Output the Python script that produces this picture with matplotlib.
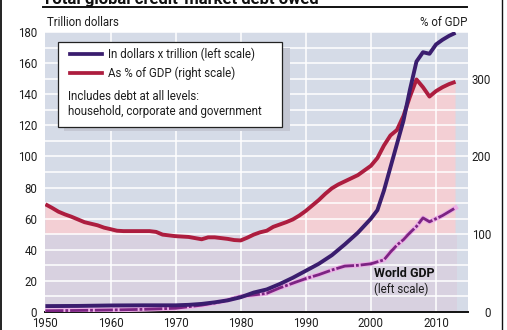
import matplotlib
matplotlib.use('Agg')
import matplotlib.pyplot as plt
from matplotlib.lines import Line2D
from matplotlib.patches import Rectangle
import numpy as np

# ---------------- data ----------------
years_pct = list(range(1950, 2014))
debt_pct_gdp = [138.5, 134, 129, 125.5, 122.5, 119, 115.5, 113.5, 111.5, 108.5,
                106.5, 104.5, 104, 104, 104, 104, 104, 103, 99.5, 98.5,
                97.5, 97, 96.5, 95, 93.5, 96, 96, 95, 94, 92.5,
                92, 95.5, 99.5, 102.5, 104.5, 109.5, 112.5, 115.5, 119, 124,
                130, 137, 144, 152, 159, 164, 168, 172, 176, 182,
                188, 198, 214, 227, 234, 252, 277, 299, 289, 277,
                284, 289, 293, 296]

years_debt = [1950, 1955, 1960, 1965, 1970, 1972, 1974, 1976, 1978, 1980, 1982, 1984,
              1986, 1988, 1990, 1992, 1994, 1996, 1998, 2000, 2001, 2002, 2003, 2004,
              2005, 2006, 2007, 2008, 2009, 2010, 2011, 2012, 2013]
debt_trillion = [3.8, 3.9, 4.2, 4.3, 4.3, 4.6, 5.2, 6.2, 7.5, 9.5, 12.5, 14.5,
                 18, 22, 26.5, 31, 36.5, 43.5, 51, 60, 65.5, 78, 93, 108,
                 123, 143, 161, 167, 166, 172, 175, 177.5, 179.5]

years_gdp = [1950, 1955, 1960, 1965, 1970, 1972, 1974, 1976, 1978, 1980, 1982, 1984,
             1986, 1988, 1990, 1992, 1994, 1996, 1998, 2000, 2002, 2003, 2004, 2005,
             2006, 2007, 2008, 2009, 2010, 2011, 2012, 2013]
world_gdp = [0.8, 1.0, 1.3, 1.7, 2.4, 3.4, 4.4, 5.8, 7.6, 10, 11, 12,
             15.5, 18.5, 21.5, 24, 27, 29.5, 30, 31, 33.5, 38.5, 43, 46.5,
             51, 55, 60.5, 58, 60, 62, 64.5, 67]

left_ticks = list(range(0, 181, 20))
right_ticks = [0, 100, 200, 300]
x_ticks = list(range(1950, 2011, 10))

# ---------------- style ----------------
BG = '#d5dbe7'
MAUVE = '#d8d1e0'
PINK = '#f3cfd4'
RED = '#ad1d3f'
BLUE = '#3a1d6e'
GDPC = '#7c2483'
GDP_EDGE = '#ecaee6'
TXT = '#1e1e1e'

plt.rcParams['font.family'] = ['Roboto', 'DejaVu Sans']

W, H = 507, 330
fig = plt.figure(figsize=(W / 100, H / 100), dpi=100)


def fx(px):
    return px / W


def fy(py):
    return 1 - py / H


L, R, T, B = 45.4, 468, 32, 312
ax = fig.add_axes([fx(L), fy(B), (R - L) / W, (B - T) / H])
ax2 = ax.twinx()
ax.set_zorder(2)
ax2.set_zorder(1)
ax.patch.set_visible(False)
ax2.patch.set_visible(True)
ax2.patch.set_facecolor(BG)

x0 = 1950
x1 = 1950 + (R - L) / 6.51
ax.set_xlim(x0, x1)
ax.set_ylim(0, 180)
ax2.set_ylim(0, 360)

yp = np.array(years_pct)
pc = np.array(debt_pct_gdp)
# 0-100 % of GDP band and the area above 100%
ax2.fill_between([yp[0], yp[-1] + 0.3], 0, 100, color=MAUVE, lw=0, zorder=0.5)
ax2.fill_between(yp, 100, pc, where=pc >= 100, interpolate=True,
                 color=PINK, lw=0, zorder=0.6)
for v in range(20, 361, 20):
    ax2.axhline(v, color='white', lw=1.1, zorder=0.8)
for d in x_ticks[1:]:
    ax2.axvline(d, color='white', lw=1.1, zorder=0.8)
ax2.plot(yp, pc, color=RED, lw=2.8, zorder=3, solid_joinstyle='round',
         solid_capstyle='butt')

# world GDP (dash-dot with light outline)
ax.plot(years_gdp, world_gdp, color=GDP_EDGE, lw=3.4, zorder=3,
        solid_joinstyle='round')
ax.plot(years_gdp, world_gdp, color=GDPC, lw=2.0, zorder=3.1,
        dashes=[6.5, 0.7, 1.0, 0.7], dash_joinstyle='round')
# debt in trillion
ax.plot(years_debt, debt_trillion, color=BLUE, lw=2.8, zorder=4,
        solid_joinstyle='round', solid_capstyle='butt')

for s in ['top', 'left', 'right']:
    ax.spines[s].set_visible(False)
ax.spines['bottom'].set_linewidth(1.4)
ax.spines['bottom'].set_color('#111111')
for s in ax2.spines.values():
    s.set_visible(False)

ax.set_yticks(left_ticks)
ax.set_xticks(x_ticks)
ax.tick_params(axis='y', length=0, pad=5.8, labelsize=8.3, labelcolor=TXT)
ax.tick_params(axis='x', length=0, pad=3.8, labelsize=8.3, labelcolor=TXT)
ax2.set_yticks(right_ticks)
ax2.tick_params(axis='y', length=0, pad=16.6, labelsize=8.3, labelcolor=TXT)
for lbl in ax2.get_yticklabels():
    lbl.set_horizontalalignment('right')

ax.text(2000.5, 24.5, 'World GDP', fontsize=9, fontweight='bold', color='#111111',
        va='center', ha='left', zorder=6)
ax.text(2000.5, 14.3, '(left scale)', fontsize=8.3, color=TXT,
        va='center', ha='left', zorder=6)

# axis captions
fig.text(fx(47), fy(26), 'Trillion dollars', fontsize=8.3, color=TXT, va='baseline')
fig.text(fx(467), fy(26), '% of GDP', fontsize=8.3, color=TXT, va='baseline', ha='right')

# cut-off title and rule
fig.text(fx(42), fy(4), 'Total global credit-market debt owed', fontsize=12,
         fontweight='bold', va='baseline', color='#111111')
fig.add_artist(Line2D([fx(43), fx(467)], [fy(7), fy(7)], color='#111111', lw=1.4))

# frame sides
fig.add_artist(Line2D([fx(1), fx(1)], [0, 1], color='#111111', lw=1.3))
fig.add_artist(Line2D([fx(501.5), fx(501.5)], [0, 1], color='#111111', lw=1.0))

# legend box
fig.add_artist(Rectangle((fx(64), fy(131)), 226 / W, 83 / H, facecolor='#c4c7d3',
                         edgecolor='none', zorder=10))
fig.add_artist(Rectangle((fx(58), fy(127)), 224 / W, 85 / H, facecolor='white',
                         edgecolor='#222222', lw=0.9, zorder=11))
fig.add_artist(Line2D([fx(70), fx(102)], [fy(54), fy(54)], color=BLUE, lw=2.7, zorder=12))
fig.add_artist(Line2D([fx(70), fx(102)], [fy(73.3), fy(73.3)], color=RED, lw=2.7, zorder=12))
fig.text(fx(108), fy(54), 'In dollars x trillion (left scale)', fontsize=8.3, color=TXT,
         va='center', zorder=13)
fig.text(fx(108), fy(73.3), 'As % of GDP (right scale)', fontsize=8.3, color=TXT,
         va='center', zorder=13)
fig.text(fx(68), fy(96), 'Includes debt at all levels:', fontsize=8.3, color=TXT,
         va='center', zorder=13)
fig.text(fx(68), fy(111), 'household, corporate and government', fontsize=8.3, color=TXT,
         va='center', zorder=13)

fig.savefig('out.png', dpi=100)
